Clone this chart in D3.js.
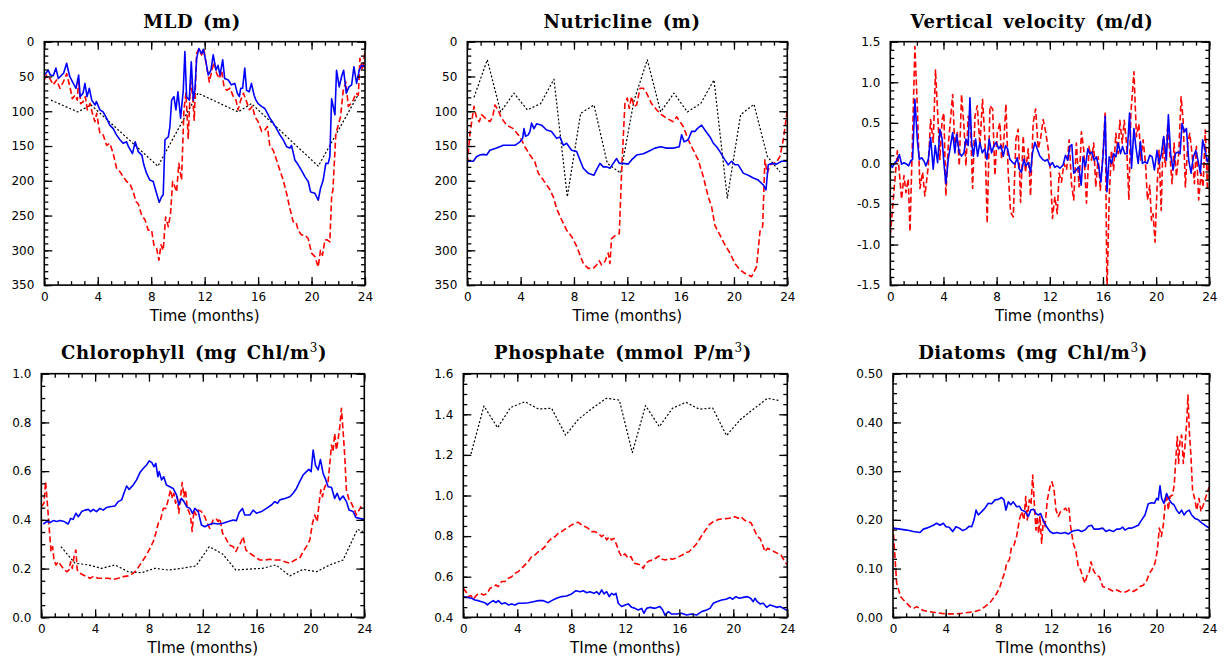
<!DOCTYPE html>
<html>
<head>
<meta charset="utf-8">
<script src="https://cdn.jsdelivr.net/npm/d3@7"></script>
<style>
  body { margin: 0; background: #fff; }
  svg text { font-family: "DejaVu Sans", sans-serif; fill: #000; }
  .title { font-family: "DejaVu Serif", serif; font-weight: bold; font-size: 18px; letter-spacing: 0.6px; word-spacing: 3px; }
</style>
</head>
<body>
<svg id="fig" width="1226" height="660"></svg>
<script>
// ---- time axis (months) ----
const monthLabels = [0, 4, 8, 12, 16, 20, 24];
const monthMinor = d3.range(0, 25, 1);

// ---- Mixed layer depth (m) ----
const mldRunA = [[0,48],[0.3,41],[0.45,48],[0.67,49],[0.87,38],[1.05,53],[1.3,48],[1.45,45],[1.67,31],[1.9,50],[2.17,60],[2.37,67],[2.57,48],[2.68,79],[2.9,74],[3.04,60],[3.2,79],[3.37,67],[3.55,84],[3.8,91],[3.9,86],[4.16,98],[4.4,101],[4.66,110],[4.9,120],[5.16,125],[5.4,134],[5.66,141],[5.9,146],[6.16,144],[6.3,151],[6.6,161],[6.8,144],[7.03,158],[7.3,163],[7.45,177],[7.65,189],[7.9,199],[8.15,201],[8.4,218],[8.6,231],[8.78,223],[8.9,220],[9.03,141],[9.28,137],[9.4,122],[9.53,84],[9.7,79],[9.85,98],[10.0,72],[10.2,110],[10.4,70],[10.52,14],[10.65,79],[10.85,84],[11.0,29],[11.15,84],[11.27,70],[11.4,24],[11.57,10],[11.77,17],[11.9,11],[12.1,29],[12.27,48],[12.47,41],[12.64,19],[12.85,41],[13.0,34],[13.15,48],[13.35,26],[13.5,53],[13.77,55],[14.0,62],[14.26,60],[14.44,74],[14.6,79],[14.7,67],[14.84,67],[15.0,38],[15.14,70],[15.34,72],[15.5,60],[15.7,77],[15.84,84],[16.0,89],[16.26,93],[16.5,96],[16.7,103],[16.88,110],[17.13,117],[17.38,125],[17.63,134],[17.88,141],[18.13,151],[18.38,153],[18.5,149],[18.75,170],[19.0,177],[19.25,185],[19.5,194],[19.75,201],[19.93,216],[20.25,218],[20.5,228],[20.67,211],[20.87,199],[21.07,175],[21.25,175],[21.37,165],[21.5,82],[21.75,105],[21.87,41],[22.07,65],[22.25,50],[22.4,41],[22.6,74],[22.8,65],[23.0,62],[23.17,36],[23.37,60],[23.57,41],[23.74,34],[24,36]];
const mldRunB = [[0,55],[0.17,48],[0.42,53],[0.67,62],[0.92,55],[1.17,67],[1.42,58],[1.67,46],[1.92,65],[2.1,82],[2.3,77],[2.47,84],[2.57,55],[2.72,89],[2.92,86],[3.07,79],[3.22,98],[3.42,89],[3.6,103],[3.79,115],[3.92,103],[4.16,132],[4.41,134],[4.66,149],[4.9,146],[5.16,161],[5.41,182],[5.66,187],[5.9,194],[6.16,201],[6.4,204],[6.66,216],[6.86,230],[7.03,233],[7.28,249],[7.53,256],[7.78,271],[8.03,271],[8.2,292],[8.4,297],[8.58,314],[8.73,292],[8.9,300],[9.08,252],[9.28,266],[9.45,247],[9.6,201],[9.72,206],[9.9,216],[10.07,175],[10.27,199],[10.45,98],[10.6,74],[10.77,139],[10.95,55],[11.1,79],[11.22,113],[11.4,17],[11.57,10],[11.77,19],[11.95,12],[12.15,36],[12.35,58],[12.52,43],[12.7,29],[12.9,46],[13.1,53],[13.27,41],[13.45,65],[13.65,70],[13.9,67],[14.15,79],[14.35,84],[14.5,98],[14.7,84],[14.9,74],[15.1,84],[15.35,98],[15.57,93],[15.77,108],[16.0,115],[16.27,129],[16.5,127],[16.7,122],[16.87,149],[17.13,156],[17.38,170],[17.63,185],[17.88,199],[18.13,218],[18.38,240],[18.63,259],[18.83,259],[19.0,271],[19.25,278],[19.5,278],[19.75,283],[20.0,304],[20.25,309],[20.5,324],[20.67,300],[20.82,307],[21.0,285],[21.17,285],[21.37,288],[21.5,223],[21.6,213],[21.82,132],[22.0,120],[22.17,108],[22.37,70],[22.57,58],[22.75,93],[22.95,89],[23.12,84],[23.32,74],[23.5,77],[23.62,24],[23.8,41],[24,14]];
const mldObs = [[0.5,84],[2.5,101],[3.5,91],[8.5,179],[11.5,74],[14.5,101],[15.5,89],[20.5,179],[23.5,76]];

// ---- Nutricline depth (m) ----
const nutRunA = [[0,172],[0.45,172],[0.7,165],[0.95,163],[1.2,162],[1.45,163],[1.7,156],[2.2,153],[2.7,149],[3.2,149],[3.57,149],[3.95,144],[4.15,139],[4.25,125],[4.37,136],[4.57,134],[4.7,129],[4.82,117],[5.0,125],[5.2,118],[5.57,120],[5.95,127],[6.32,129],[6.7,139],[6.95,137],[7.2,149],[7.45,146],[7.82,156],[8.2,158],[8.45,170],[8.7,182],[9.07,189],[9.5,192],[9.7,184],[9.95,175],[10.2,180],[10.45,180],[10.7,182],[10.95,175],[11.2,168],[11.4,175],[11.7,175],[12.07,176],[12.32,170],[12.7,163],[13.2,161],[13.57,158],[14.07,153],[14.5,151],[14.95,153],[15.45,153],[15.9,151],[16.07,134],[16.27,144],[16.57,141],[16.82,129],[17.07,129],[17.25,125],[17.57,120],[17.82,127],[18.2,137],[18.45,146],[18.7,151],[18.95,158],[19.32,170],[19.57,177],[19.82,172],[20.07,177],[20.32,177],[20.7,189],[21.07,192],[21.45,196],[21.82,199],[22.2,206],[22.4,213],[22.57,177],[22.82,175],[23.2,176],[23.57,172],[24,172]];
const nutRunB = [[0,175],[0.2,132],[0.5,93],[0.7,110],[0.9,115],[1.07,105],[1.25,108],[1.45,112],[1.7,115],[1.9,108],[2.07,91],[2.3,98],[2.57,110],[2.95,120],[3.45,125],[3.95,137],[4.32,151],[4.7,163],[5.07,173],[5.32,189],[5.7,199],[6.2,213],[6.45,223],[6.7,240],[7.07,256],[7.45,271],[7.82,280],[8.15,292],[8.4,304],[8.7,319],[9.07,326],[9.45,326],[9.7,321],[9.9,315],[10.07,321],[10.32,316],[10.57,304],[10.7,319],[10.82,283],[11.15,278],[11.4,276],[11.57,189],[11.82,89],[12.0,81],[12.15,96],[12.32,79],[12.5,93],[12.7,91],[12.95,67],[13.2,67],[13.45,74],[13.82,89],[14.2,98],[14.57,105],[14.95,110],[15.45,115],[15.7,108],[15.95,115],[16.2,122],[16.57,141],[16.95,156],[17.32,170],[17.7,194],[18.07,223],[18.32,237],[18.57,264],[18.95,278],[19.32,292],[19.7,304],[20.07,319],[20.45,328],[20.82,333],[21.32,338],[21.7,323],[21.95,273],[22.15,266],[22.32,170],[22.5,189],[22.7,177],[22.95,175],[23.2,173],[23.45,165],[23.7,141],[24,98]];
const nutObs = [[0.5,80],[1.5,26],[2.5,101],[3.5,74],[4.5,98],[5.5,89],[6.5,54],[7.5,223],[8.5,103],[9.5,91],[10.5,175],[11.5,189],[12.5,85],[13.5,26],[14.5,101],[15.5,74],[16.5,101],[17.5,89],[18.5,55],[19.5,225],[20.5,105],[21.5,90],[22.5,165],[23.45,187]];

// ---- Vertical velocity (m/d) ----
const velRunA = [[0,0],[0.15,-0.05],[0.35,0.01],[0.5,0.03],[0.68,0.11],[0.85,-0.01],[1.03,0.01],[1.23,-0.01],[1.38,-0.03],[1.53,0.03],[1.68,0.05],[1.85,0.79],[2.03,0.30],[2.18,0.05],[2.36,0.07],[2.53,0.03],[2.68,-0.03],[2.86,0.05],[3.03,0.32],[3.23,-0.07],[3.38,0.22],[3.56,0.01],[3.73,0.42],[3.9,0.30],[4.03,0.01],[4.18,-0.25],[4.36,0.05],[4.53,0.22],[4.69,0.38],[4.86,0.13],[4.99,0.36],[5.19,0.13],[5.36,0.09],[5.54,0.13],[5.69,0.30],[5.86,0.22],[5.99,0.81],[6.12,0.26],[6.24,0.09],[6.42,0.30],[6.57,0.09],[6.74,0.26],[6.92,0.13],[7.1,0.18],[7.27,0.05],[7.44,0.30],[7.62,0.13],[7.8,0.22],[7.97,0.26],[8.15,0.18],[8.32,0.22],[8.5,0.09],[8.67,0.22],[8.82,0.18],[9.0,0.05],[9.2,0.01],[9.37,-0.01],[9.55,0.07],[9.7,-0.07],[9.87,-0.11],[10.05,0.05],[10.2,-0.03],[10.38,0.01],[10.55,-0.11],[10.7,0.13],[10.88,0.26],[11.05,0.18],[11.25,0.09],[11.45,0.05],[11.65,0.03],[11.83,0.05],[12.0,-0.03],[12.2,0.01],[12.38,-0.05],[12.55,-0.03],[12.76,-0.06],[13.0,-0.02],[13.18,0.10],[13.36,0.04],[13.5,0.21],[13.66,0.23],[13.8,-0.12],[14.0,-0.08],[14.18,-0.04],[14.36,-0.27],[14.5,0.08],[14.68,-0.04],[14.86,0.18],[15.0,0.12],[15.16,0.14],[15.34,0.04],[15.5,0.08],[15.68,-0.04],[15.84,-0.23],[16.0,0.08],[16.17,0.58],[16.3,-0.35],[16.47,0.08],[16.64,0],[16.8,0.12],[16.97,0.08],[17.14,0.25],[17.32,0.12],[17.47,0.21],[17.64,0.12],[17.82,0.12],[18.0,0.62],[18.15,-0.06],[18.33,0.43],[18.47,0.21],[18.65,0],[18.82,0.27],[18.97,0],[19.15,0.02],[19.33,0],[19.52,0.10],[19.7,0.08],[19.87,-0.08],[20.07,0.16],[20.22,0],[20.4,0.12],[20.57,0.33],[20.77,0.04],[20.92,0.6],[21.1,0.10],[21.28,-0.08],[21.45,0.12],[21.63,0.14],[21.8,0.12],[21.95,0.49],[22.13,0.39],[22.28,0.43],[22.45,0.04],[22.63,-0.12],[22.8,0.08],[22.98,0.16],[23.15,0.04],[23.33,-0.12],[23.5,0.29],[23.68,0.16],[23.86,0.02],[24,0.08]];
const velRunB = [[0,-0.89],[0.53,0.155],[0.68,-0.11],[0.85,-0.44],[1.03,-0.15],[1.18,-0.36],[1.35,-0.19],[1.48,-0.84],[1.65,0.18],[1.85,1.44],[2.03,0.71],[2.23,-0.31],[2.43,-0.11],[2.6,-0.4],[2.86,-0.03],[3.03,0.54],[3.23,0.26],[3.4,1.15],[3.6,0.5],[3.73,0.05],[3.9,0.54],[4.03,0.62],[4.18,-0.40],[4.36,0.22],[4.53,0.54],[4.69,0.85],[4.86,0.18],[5.04,0.38],[5.19,-0.03],[5.36,0.85],[5.54,0.46],[5.69,-0.03],[5.86,0.58],[6.04,0.46],[6.19,-0.31],[6.37,0.58],[6.54,0.71],[6.74,0.22],[6.94,0.79],[7.12,0.30],[7.29,-0.74],[7.5,0.71],[7.7,0.67],[7.87,-0.15],[8.05,0.38],[8.25,0.5],[8.37,0.05],[8.55,0.3],[8.7,0.73],[8.87,-0.11],[9.05,-0.6],[9.25,-0.66],[9.45,0.30],[9.62,0.42],[9.8,-0.48],[10.0,0.34],[10.17,-0.11],[10.38,0.18],[10.55,-0.40],[10.75,0.5],[10.93,0.67],[11.13,0.18],[11.3,0.30],[11.5,0.54],[11.7,0.38],[11.88,0.18],[12.05,-0.1],[12.2,-0.68],[12.38,-0.41],[12.56,-0.62],[12.7,-0.12],[12.88,-0.23],[13.06,0],[13.26,-0.08],[13.46,0.29],[13.63,-0.25],[13.8,-0.45],[14.0,0.25],[14.2,-0.29],[14.38,0.39],[14.56,0.16],[14.76,-0.49],[14.96,0.21],[15.14,0.04],[15.3,0.25],[15.46,-0.29],[15.64,0.08],[15.8,-0.33],[16.0,0.12],[16.17,0.64],[16.3,-1.6],[16.47,-0.41],[16.64,0.16],[16.8,-0.08],[16.97,0.37],[17.14,0.12],[17.27,0.53],[17.45,0.25],[17.6,0.53],[17.77,0.25],[17.95,-0.45],[18.1,0.62],[18.33,1.13],[18.52,0.33],[18.7,0.49],[18.85,0.04],[19.02,0.29],[19.2,0],[19.35,-0.45],[19.52,-0.27],[19.65,-0.70],[19.77,-0.62],[19.92,-0.97],[20.07,-0.29],[20.22,0.16],[20.38,-0.58],[20.52,0.29],[20.7,-0.04],[20.87,0.49],[21.03,0.12],[21.2,-0.25],[21.35,0.25],[21.53,-0.16],[21.7,0.12],[21.88,0.82],[22.03,0.53],[22.2,-0.29],[22.38,0.25],[22.53,0.37],[22.7,0.12],[22.88,-0.25],[23.03,0.21],[23.2,-0.45],[23.38,-0.12],[23.53,-0.29],[23.7,0.41],[23.86,-0.33],[24,0.29]];

// ---- Chlorophyll (mg Chl/m3) ----
const chlRunA = [[0.15,0.383],[0.4,0.393],[0.65,0.389],[0.9,0.397],[1.15,0.393],[1.4,0.397],[1.7,0.393],[2.0,0.383],[2.18,0.406],[2.37,0.402],[2.57,0.427],[2.75,0.413],[3.0,0.434],[3.24,0.44],[3.5,0.443],[3.66,0.434],[3.86,0.443],[4.1,0.434],[4.36,0.447],[4.6,0.44],[4.85,0.451],[5.1,0.454],[5.47,0.457],[5.72,0.475],[5.97,0.482],[6.14,0.509],[6.34,0.539],[6.53,0.525],[6.83,0.543],[7.08,0.564],[7.33,0.594],[7.57,0.611],[7.82,0.625],[8.02,0.642],[8.22,0.635],[8.37,0.618],[8.51,0.632],[8.66,0.577],[8.76,0.598],[8.94,0.564],[9.1,0.577],[9.3,0.543],[9.55,0.536],[9.8,0.529],[10.05,0.502],[10.22,0.461],[10.42,0.488],[10.6,0.475],[10.8,0.454],[11.04,0.447],[11.24,0.427],[11.41,0.447],[11.66,0.434],[11.9,0.379],[12.15,0.372],[12.4,0.379],[12.77,0.386],[13.14,0.383],[13.5,0.386],[13.9,0.393],[14.26,0.399],[14.5,0.397],[14.7,0.43],[14.95,0.447],[15.12,0.42],[15.5,0.42],[15.74,0.44],[15.99,0.427],[16.36,0.434],[16.73,0.447],[17.1,0.461],[17.35,0.475],[17.55,0.468],[17.72,0.482],[18.1,0.488],[18.47,0.495],[18.71,0.509],[18.96,0.529],[19.2,0.557],[19.45,0.584],[19.7,0.598],[19.88,0.607],[20.05,0.598],[20.2,0.687],[20.37,0.625],[20.57,0.605],[20.74,0.648],[20.94,0.591],[21.14,0.564],[21.31,0.536],[21.56,0.534],[21.8,0.488],[21.98,0.509],[22.18,0.482],[22.42,0.498],[22.67,0.475],[22.87,0.44],[23.17,0.434],[23.37,0.41],[23.66,0.406],[24,0.402]];
const chlRunB = [[0,0.454],[0.2,0.468],[0.32,0.557],[0.45,0.468],[0.6,0.358],[0.72,0.27],[0.84,0.29],[0.94,0.235],[1.09,0.215],[1.26,0.228],[1.44,0.215],[1.63,0.201],[1.88,0.187],[2.05,0.194],[2.18,0.228],[2.3,0.201],[2.43,0.249],[2.57,0.276],[2.67,0.194],[2.87,0.181],[3.12,0.174],[3.37,0.167],[3.61,0.160],[3.86,0.167],[4.23,0.160],[4.6,0.160],[4.98,0.160],[5.35,0.156],[5.72,0.160],[6.1,0.167],[6.46,0.17],[6.83,0.181],[7.08,0.194],[7.33,0.215],[7.57,0.235],[7.82,0.256],[8.07,0.283],[8.32,0.311],[8.51,0.345],[8.69,0.386],[8.86,0.40],[9.06,0.447],[9.26,0.447],[9.43,0.482],[9.6,0.523],[9.75,0.488],[9.85,0.509],[9.98,0.468],[10.1,0.495],[10.22,0.427],[10.35,0.495],[10.47,0.553],[10.6,0.495],[10.72,0.523],[10.84,0.447],[10.97,0.434],[11.09,0.413],[11.21,0.352],[11.34,0.44],[11.49,0.42],[11.66,0.44],[11.9,0.434],[12.15,0.413],[12.33,0.386],[12.52,0.365],[12.77,0.40],[12.97,0.406],[13.14,0.393],[13.27,0.406],[13.47,0.345],[13.71,0.324],[13.96,0.297],[14.26,0.29],[14.46,0.27],[14.63,0.29],[14.8,0.304],[15.0,0.331],[15.2,0.276],[15.5,0.263],[15.87,0.249],[16.24,0.235],[16.6,0.235],[16.98,0.238],[17.35,0.235],[17.72,0.235],[18.1,0.228],[18.47,0.222],[18.84,0.235],[19.2,0.242],[19.45,0.27],[19.7,0.29],[19.95,0.317],[20.15,0.386],[20.32,0.42],[20.5,0.393],[20.64,0.468],[20.77,0.523],[20.89,0.495],[21.06,0.536],[21.31,0.557],[21.44,0.632],[21.56,0.707],[21.68,0.68],[21.8,0.755],[21.93,0.687],[22.05,0.728],[22.18,0.782],[22.3,0.858],[22.42,0.769],[22.55,0.659],[22.67,0.523],[22.87,0.482],[23.05,0.468],[23.22,0.447],[23.42,0.42],[23.61,0.44],[23.79,0.457],[24,0.465]];
const chlObs = [[1.46,0.29],[2.5,0.222],[3.5,0.215],[4.48,0.201],[5.47,0.215],[6.46,0.187],[7.45,0.183],[8.44,0.201],[9.43,0.194],[10.42,0.201],[11.49,0.211],[12.48,0.29],[13.47,0.26],[14.46,0.194],[15.45,0.198],[16.44,0.201],[17.43,0.215],[18.47,0.17],[19.45,0.197],[20.45,0.187],[21.44,0.215],[22.42,0.235],[23.49,0.361],[23.9,0.352]];

// ---- Phosphate (mmol P/m3) ----
const po4RunA = [[0,0.502],[0.3,0.498],[0.62,0.494],[0.86,0.485],[1.11,0.482],[1.36,0.477],[1.6,0.472],[1.78,0.461],[1.98,0.472],[2.22,0.482],[2.42,0.472],[2.59,0.482],[2.84,0.466],[3.08,0.472],[3.33,0.461],[3.58,0.466],[3.83,0.461],[4.07,0.469],[4.44,0.469],[4.81,0.472],[5.19,0.477],[5.56,0.482],[5.93,0.482],[6.3,0.472],[6.54,0.482],[6.91,0.494],[7.28,0.502],[7.65,0.505],[8.02,0.515],[8.35,0.531],[8.64,0.526],[8.89,0.531],[9.14,0.521],[9.38,0.526],[9.68,0.518],[9.88,0.526],[10.07,0.513],[10.25,0.535],[10.42,0.515],[10.62,0.526],[10.81,0.502],[10.99,0.518],[11.16,0.51],[11.31,0.518],[11.48,0.469],[11.73,0.453],[11.98,0.461],[12.22,0.466],[12.47,0.449],[12.72,0.444],[12.96,0.436],[13.21,0.444],[13.38,0.42],[13.58,0.444],[13.83,0.449],[14.2,0.444],[14.57,0.453],[14.77,0.436],[14.94,0.411],[15.19,0.428],[15.43,0.416],[15.8,0.416],[16.17,0.42],[16.54,0.411],[16.91,0.416],[17.28,0.411],[17.65,0.428],[18.02,0.436],[18.27,0.444],[18.52,0.469],[18.77,0.477],[19.14,0.485],[19.46,0.489],[19.75,0.498],[19.95,0.489],[20.2,0.502],[20.44,0.494],[20.74,0.498],[21.04,0.502],[21.28,0.494],[21.48,0.477],[21.6,0.494],[21.78,0.477],[21.98,0.466],[22.22,0.469],[22.47,0.449],[22.72,0.461],[22.96,0.456],[23.21,0.449],[23.46,0.453],[23.7,0.444],[24,0.433]];
const po4RunB = [[0,0.543],[0.2,0.526],[0.37,0.502],[0.57,0.507],[0.74,0.489],[0.99,0.51],[1.23,0.518],[1.53,0.51],[1.78,0.518],[1.98,0.543],[2.22,0.551],[2.42,0.559],[2.59,0.551],[2.84,0.576],[3.08,0.576],[3.33,0.592],[3.58,0.60],[3.83,0.617],[4.07,0.625],[4.32,0.641],[4.57,0.658],[4.81,0.674],[5.06,0.699],[5.31,0.707],[5.56,0.723],[5.8,0.732],[6.05,0.748],[6.3,0.773],[6.54,0.789],[6.79,0.797],[7.04,0.814],[7.28,0.822],[7.53,0.834],[7.78,0.843],[8.02,0.855],[8.27,0.863],[8.52,0.868],[8.77,0.855],[9.01,0.847],[9.26,0.838],[9.51,0.822],[9.75,0.822],[10.0,0.814],[10.25,0.797],[10.42,0.806],[10.62,0.781],[10.81,0.797],[10.99,0.781],[11.16,0.789],[11.36,0.756],[11.56,0.719],[11.73,0.699],[11.98,0.712],[12.22,0.691],[12.42,0.699],[12.64,0.666],[12.89,0.663],[13.14,0.658],[13.33,0.641],[13.5,0.666],[13.75,0.677],[14.0,0.682],[14.25,0.691],[14.49,0.702],[14.74,0.686],[14.99,0.682],[15.23,0.691],[15.48,0.686],[15.73,0.691],[15.98,0.699],[16.22,0.707],[16.47,0.719],[16.72,0.723],[16.96,0.74],[17.21,0.756],[17.46,0.781],[17.7,0.806],[17.95,0.83],[18.2,0.855],[18.44,0.868],[18.69,0.876],[18.94,0.883],[19.19,0.884],[19.43,0.886],[19.68,0.888],[19.93,0.893],[20.12,0.896],[20.37,0.888],[20.57,0.896],[20.81,0.879],[21.06,0.871],[21.31,0.866],[21.56,0.83],[21.8,0.797],[21.98,0.789],[22.17,0.756],[22.35,0.723],[22.54,0.74],[22.79,0.732],[23.04,0.723],[23.28,0.715],[23.53,0.707],[23.75,0.682],[24,0.658]];
const po4Obs = [[0.57,1.205],[1.53,1.441],[2.54,1.334],[3.5,1.433],[4.57,1.462],[5.56,1.426],[6.54,1.43],[7.58,1.297],[8.52,1.375],[9.56,1.43],[10.6,1.479],[11.56,1.47],[12.52,1.211],[13.5,1.443],[14.52,1.339],[15.5,1.43],[16.49,1.459],[17.48,1.425],[18.47,1.431],[19.5,1.295],[20.49,1.372],[21.48,1.425],[22.54,1.479],[23.46,1.467]];

// ---- Diatoms (mg Chl/m3) ----
const diaRunA = [[0,0.183],[0.53,0.181],[1.04,0.179],[1.54,0.176],[2.05,0.174],[2.3,0.181],[2.55,0.183],[2.81,0.186],[3.06,0.189],[3.31,0.193],[3.57,0.189],[3.82,0.193],[4.02,0.186],[4.27,0.185],[4.53,0.176],[4.78,0.186],[5.03,0.183],[5.29,0.178],[5.54,0.181],[5.79,0.187],[5.97,0.186],[6.15,0.2],[6.3,0.22],[6.47,0.21],[6.73,0.217],[6.98,0.224],[7.23,0.234],[7.49,0.233],[7.74,0.241],[7.99,0.242],[8.24,0.246],[8.42,0.241],[8.57,0.22],[8.75,0.237],[8.93,0.231],[9.13,0.237],[9.38,0.227],[9.59,0.228],[9.76,0.22],[10.02,0.217],[10.27,0.207],[10.45,0.22],[10.65,0.222],[10.85,0.213],[11.03,0.21],[11.2,0.213],[11.41,0.198],[11.66,0.186],[11.91,0.176],[12.17,0.172],[12.42,0.174],[12.72,0.172],[13.05,0.174],[13.3,0.171],[13.56,0.176],[13.81,0.178],[14.06,0.179],[14.31,0.176],[14.57,0.179],[14.82,0.187],[15.07,0.189],[15.25,0.181],[15.58,0.181],[15.91,0.183],[16.16,0.176],[16.41,0.179],[16.72,0.176],[16.97,0.181],[17.22,0.181],[17.43,0.185],[17.6,0.179],[17.86,0.183],[18.11,0.183],[18.36,0.186],[18.61,0.189],[18.87,0.2],[19.12,0.21],[19.37,0.233],[19.63,0.235],[19.83,0.234],[20.01,0.244],[20.13,0.241],[20.26,0.27],[20.38,0.244],[20.56,0.234],[20.76,0.254],[20.97,0.241],[21.14,0.234],[21.32,0.231],[21.52,0.22],[21.72,0.213],[21.9,0.22],[22.08,0.21],[22.28,0.217],[22.48,0.22],[22.66,0.21],[22.91,0.203],[23.17,0.2],[23.42,0.194],[23.67,0.189],[24,0.183]];
const diaRunB = [[0,0.189],[0.08,0.152],[0.18,0.111],[0.28,0.07],[0.43,0.056],[0.58,0.042],[0.78,0.036],[1.04,0.029],[1.29,0.022],[1.54,0.018],[1.8,0.022],[2.05,0.018],[2.3,0.014],[2.68,0.012],[3.19,0.01],[3.69,0.008],[4.2,0.007],[4.7,0.007],[5.21,0.008],[5.72,0.01],[6.22,0.012],[6.6,0.015],[6.98,0.022],[7.36,0.03],[7.61,0.039],[7.87,0.049],[8.12,0.063],[8.32,0.08],[8.5,0.094],[8.62,0.111],[8.83,0.118],[9.0,0.145],[9.18,0.148],[9.38,0.166],[9.59,0.2],[9.76,0.217],[9.94,0.2],[10.07,0.248],[10.19,0.2],[10.34,0.241],[10.47,0.231],[10.6,0.292],[10.72,0.234],[10.85,0.179],[10.95,0.207],[11.05,0.172],[11.15,0.207],[11.28,0.152],[11.41,0.2],[11.53,0.186],[11.71,0.241],[11.91,0.268],[12.06,0.278],[12.22,0.261],[12.37,0.22],[12.54,0.207],[12.72,0.217],[12.92,0.22],[13.1,0.224],[13.23,0.217],[13.35,0.224],[13.48,0.186],[13.68,0.152],[13.88,0.135],[14.06,0.104],[14.24,0.097],[14.39,0.083],[14.57,0.07],[14.74,0.087],[14.9,0.094],[15.02,0.114],[15.2,0.097],[15.4,0.087],[15.66,0.083],[15.91,0.063],[16.21,0.06],[16.46,0.057],[16.72,0.053],[16.97,0.056],[17.22,0.053],[17.48,0.051],[17.73,0.053],[17.98,0.057],[18.24,0.053],[18.49,0.057],[18.74,0.063],[18.99,0.066],[19.25,0.075],[19.45,0.09],[19.63,0.097],[19.88,0.111],[20.06,0.138],[20.21,0.183],[20.36,0.166],[20.51,0.189],[20.66,0.234],[20.76,0.254],[20.89,0.22],[21.02,0.248],[21.22,0.251],[21.35,0.275],[21.47,0.33],[21.57,0.371],[21.67,0.316],[21.78,0.364],[21.9,0.374],[22.03,0.316],[22.15,0.35],[22.28,0.398],[22.38,0.456],[22.48,0.384],[22.61,0.33],[22.73,0.261],[22.91,0.241],[23.04,0.22],[23.22,0.244],[23.37,0.217],[23.55,0.231],[23.75,0.248],[24,0.268]];

// ---- y-axis tick labels ----
const depthLabels = [0, 50, 100, 150, 200, 250, 300, 350];
const velLabels = [1.5, 1.0, 0.5, 0.0, -0.5, -1.0, -1.5];
const chlLabels = [0.0, 0.2, 0.4, 0.6, 0.8, 1.0];
const po4Labels = [0.4, 0.6, 0.8, 1.0, 1.2, 1.4, 1.6];
const diaLabels = [0.00, 0.10, 0.20, 0.30, 0.40, 0.50];

const svg = d3.select("#fig");

const styles = {
  runA: { stroke: "#0000ff", width: 1.6, dash: null },
  runB: { stroke: "#ff0000", width: 1.6, dash: "6,3" },
  obs:  { stroke: "#000000", width: 1.2, dash: "2,2" }
};

const topRow = { y: 41.7, h: 243.4, titleY: 27.5, xLabel: "Time (months)" };
const botRow = { y: 373.7, h: 243.6, titleY: 359, xLabel: "TIme (months)" };

const panels = [
  { title: ["MLD (m)"], titleX: 192, row: topRow, x: 44.3, w: 320.7,
    domain: [350, 0], major: depthLabels, minor: d3.range(0, 351, 10), fmt: d => String(d),
    series: [["obs", mldObs], ["runB", mldRunB], ["runA", mldRunA]] },
  { title: ["Nutricline (m)"], titleX: 622, row: topRow, x: 467.3, w: 320,
    domain: [350, 0], major: depthLabels, minor: d3.range(0, 351, 10), fmt: d => String(d),
    series: [["obs", nutObs], ["runB", nutRunB], ["runA", nutRunA]] },
  { title: ["Vertical velocity (m/d)"], titleX: 1032, row: topRow, x: 890.3, w: 319,
    domain: [-1.5, 1.5], major: velLabels, minor: d3.range(-15, 16, 1).map(v => v / 10), fmt: d => d.toFixed(1),
    series: [["runB", velRunB], ["runA", velRunA]] },
  { title: ["Chlorophyll (mg Chl/m", "3", ")"], titleX: 194, row: botRow, x: 41.3, w: 323,
    domain: [0, 1], major: chlLabels, minor: d3.range(0, 21, 1).map(v => v / 20), fmt: d => d.toFixed(1),
    series: [["obs", chlObs], ["runB", chlRunB], ["runA", chlRunA]] },
  { title: ["Phosphate (mmol P/m", "3", ")"], titleX: 623, row: botRow, x: 463.3, w: 324,
    domain: [0.4, 1.6], major: po4Labels, minor: d3.range(8, 33, 1).map(v => v / 20), fmt: d => d.toFixed(1),
    series: [["obs", po4Obs], ["runB", po4RunB], ["runA", po4RunA]] },
  { title: ["Diatoms (mg Chl/m", "3", ")"], titleX: 1033, row: botRow, x: 893, w: 316.3,
    domain: [0, 0.5], major: diaLabels, minor: d3.range(0, 26, 1).map(v => v / 50), fmt: d => d.toFixed(2),
    series: [["runB", diaRunB], ["runA", diaRunA]] }
];

function styleAxis(sel, fontSize) {
  sel.select(".domain").remove();
  sel.attr("font-family", null).attr("font-size", null);
  sel.selectAll(".tick line").attr("stroke", "#000").attr("stroke-width", 1.3);
  sel.selectAll(".tick text").attr("font-size", fontSize).attr("fill", "#000");
}

panels.forEach((p, i) => {
  const h = p.row.h, w = p.w;
  const g = svg.append("g").attr("transform", `translate(${p.x},${p.row.y})`);
  const x = d3.scaleLinear().domain([0, 24]).range([0, w]);
  const y = d3.scaleLinear().domain(p.domain).range([h, 0]);

  // title
  const t = svg.append("text").attr("class", "title")
    .attr("x", p.titleX).attr("y", p.row.titleY).attr("text-anchor", "middle");
  t.append("tspan").text(p.title[0]);
  if (p.title.length > 1) {
    t.append("tspan").attr("font-size", "12px").attr("font-weight", "normal").attr("dy", -7).text(p.title[1]);
    t.append("tspan").attr("dy", 7).text(p.title[2]);
  }

  // data lines
  const clipId = "clip" + i;
  g.append("clipPath").attr("id", clipId).append("rect").attr("width", w).attr("height", h);
  const line = d3.line().x(d => x(d[0])).y(d => y(d[1]));
  const lines = g.append("g").attr("clip-path", `url(#${clipId})`);
  p.series.forEach(([key, data]) => {
    const s = styles[key];
    lines.append("path").datum(data).attr("d", line)
      .attr("fill", "none").attr("stroke", s.stroke).attr("stroke-width", s.width)
      .attr("stroke-dasharray", s.dash).attr("stroke-linejoin", "round");
  });

  // axes with inward ticks on all four sides
  const bottom = g.append("g").attr("transform", `translate(0,${h})`);
  bottom.append("g").call(d3.axisBottom(x).tickValues(monthMinor).tickSize(-4).tickFormat("")).call(styleAxis, 12);
  bottom.append("g").call(d3.axisBottom(x).tickValues(monthLabels).tickSize(-8).tickPadding(7).tickFormat(d3.format("d"))).call(styleAxis, 12);
  const top = g.append("g");
  top.append("g").call(d3.axisTop(x).tickValues(monthMinor).tickSize(-4).tickFormat("")).call(styleAxis, 12);
  top.append("g").call(d3.axisTop(x).tickValues(monthLabels).tickSize(-8).tickFormat("")).call(styleAxis, 12);
  const left = g.append("g");
  left.append("g").call(d3.axisLeft(y).tickValues(p.minor).tickSize(-4).tickFormat("")).call(styleAxis, 12);
  left.append("g").call(d3.axisLeft(y).tickValues(p.major).tickSize(-8).tickPadding(10).tickFormat(p.fmt)).call(styleAxis, 12);
  const right = g.append("g").attr("transform", `translate(${w},0)`);
  right.append("g").call(d3.axisRight(y).tickValues(p.minor).tickSize(-4).tickFormat("")).call(styleAxis, 12);
  right.append("g").call(d3.axisRight(y).tickValues(p.major).tickSize(-8).tickFormat("")).call(styleAxis, 12);

  // frame
  g.append("rect").attr("width", w).attr("height", h)
    .attr("fill", "none").attr("stroke", "#000").attr("stroke-width", 1.6);

  // x-axis title
  g.append("text").attr("x", w / 2).attr("y", h + 36).attr("text-anchor", "middle")
    .attr("font-size", "15px").text(p.row.xLabel);
});
</script>
</body>
</html>
